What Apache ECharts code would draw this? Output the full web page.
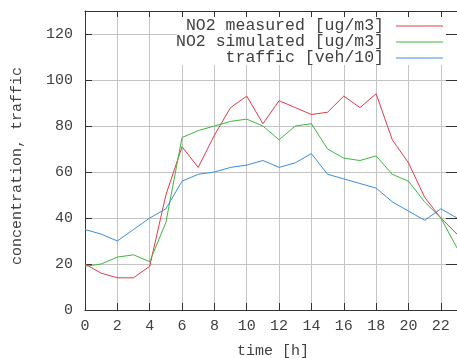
<!DOCTYPE html>
<html>
<head>
<meta charset="utf-8">
<script src="https://cdn.jsdelivr.net/npm/echarts@6/dist/echarts.min.js"></script>
<style>html,body{margin:0;padding:0;background:#fff;}#c{width:457px;height:358px;}</style>
</head>
<body>
<div id="c"></div>
<script>
var hours = [0,1,2,3,4,5,6,7,8,9,10,11,12,13,14,15,16,17,18,19,20,21,22,23];
var measured = [20,16,14,14,19,50,71,62,76,88,93,81,91,88,85,86,93,88,94,74,64,49,40,33];
var simulated = [19,20,23,24,21,38,75,78,80,82,83,80,74,80,81,70,66,65,67,59,56,47,40,27];
var traffic = [35,33,30,35,40,44,56,59,60,62,63,65,62,64,68,59,57,55,53,47,43,39,44,40];
var seriesNames = ['NO2 measured [ug/m3]', 'NO2 simulated [ug/m3]', 'traffic [veh/10]'];
var colors = ['#e23a48', '#3cb83c', '#3d8ddb'];
var xTitle = 'time [h]';
var yTitle = 'concentration, traffic';

var FONT = 'Liberation Mono';
var TXT = '#404040';
function pairs(arr){ return hours.map(function(h,i){ return [h, arr[i]]; }); }

var chart = echarts.init(document.getElementById('c'), null, {renderer:'canvas'});
var legendGraphics = [];
legendGraphics.push({type:'rect', z:5, shape:{x:177, y:13, width:276, height:52}, style:{fill:'#fff'}});
seriesNames.forEach(function(n,i){
  var y = 26 + i*16;
  legendGraphics.push({type:'text', z:6, style:{text:n, x:384, y:y, align:'right', verticalAlign:'middle', font:'16.5px "'+FONT+'"', fill:TXT}});
  legendGraphics.push({type:'line', z:6, shape:{x1:396, y1:y, x2:443, y2:y}, style:{stroke:colors[i], lineWidth:1}});
});
legendGraphics.push({type:'text', z:6, style:{text:xTitle, x:273, y:351, align:'center', verticalAlign:'middle', font:'15px "'+FONT+'"', fill:TXT}});
legendGraphics.push({type:'text', z:6, rotation:Math.PI/2, x:17, y:166, style:{text:yTitle, x:0, y:0, align:'center', verticalAlign:'middle', font:'15px "'+FONT+'"', fill:TXT}});

var option = {
  animation:false,
  backgroundColor:'#fff',
  grid:{left:85, top:11, width:378.5, height:299, show:false},
  graphic: legendGraphics,
  xAxis:[{
    type:'value', position:'bottom', min:0, max:23, interval:2, z:0,
    axisLine:{show:true, onZero:false, lineStyle:{color:'#333', width:1}},
    axisTick:{show:true, inside:true, length:7, lineStyle:{color:'#333'}},
    axisLabel:{show:true, margin:9, fontFamily:FONT, fontSize:15, color:TXT, showMaxLabel:false},
    splitLine:{show:true, lineStyle:{color:'#c4c4c4', width:1}}
  },{
    type:'value', position:'top', min:0, max:23, interval:2, z:10,
    axisLine:{show:true, onZero:false, lineStyle:{color:'#333', width:1}},
    axisTick:{show:true, inside:true, length:6, lineStyle:{color:'#333'}},
    axisLabel:{show:false}, splitLine:{show:false}
  }],
  yAxis:[{
    type:'value', position:'left', min:0, max:130, interval:20, z:0,
    axisLine:{show:true, onZero:false, lineStyle:{color:'#333', width:1}},
    axisTick:{show:true, inside:true, length:7, lineStyle:{color:'#333'}},
    axisLabel:{show:true, margin:12, fontFamily:FONT, fontSize:15, color:TXT, showMaxLabel:false},
    splitLine:{show:true, lineStyle:{color:'#c4c4c4', width:1}}
  },{
    type:'value', position:'right', min:0, max:130, interval:20, z:10,
    axisLine:{show:true, onZero:false, lineStyle:{color:'#333', width:1}},
    axisTick:{show:true, inside:true, length:11, lineStyle:{color:'#333'}},
    axisLabel:{show:false}, splitLine:{show:false}
  }],
  series:[measured, simulated, traffic].map(function(arr,i){
    return {type:'line', name:seriesNames[i], data:pairs(arr), xAxisIndex:0, yAxisIndex:0, z:6,
      showSymbol:false, symbol:'none', lineStyle:{color:colors[i], width:1}, itemStyle:{color:colors[i]}};
  })
};
chart.setOption(option);
</script>
</body>
</html>
